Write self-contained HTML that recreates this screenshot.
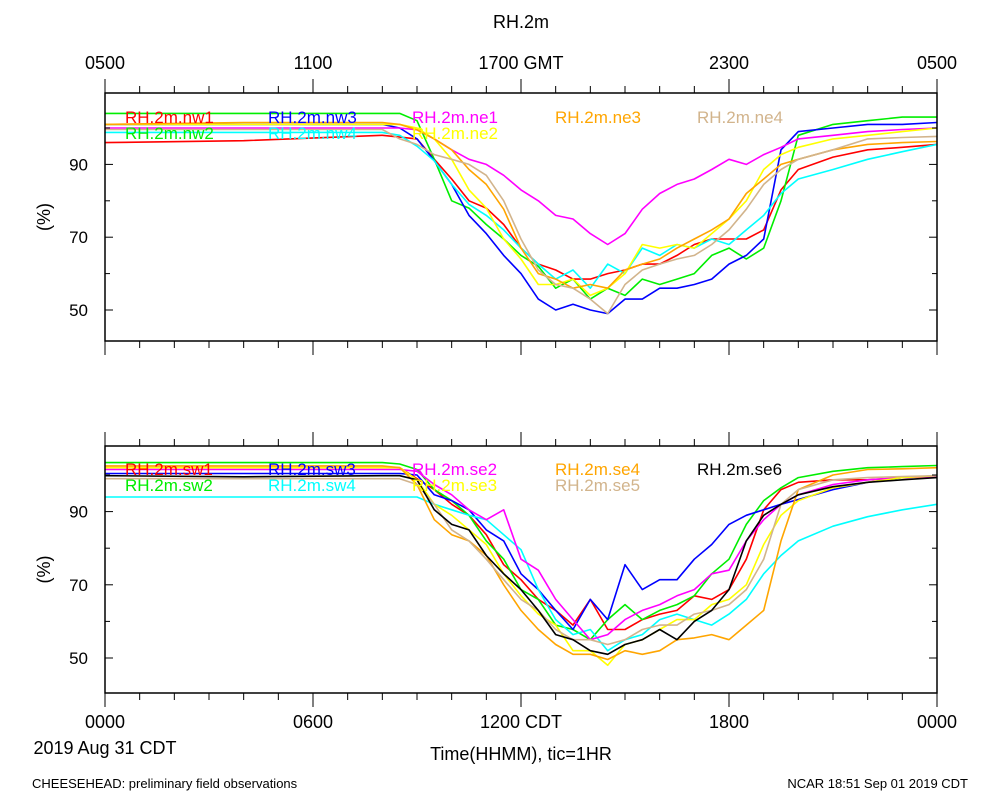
<!DOCTYPE html>
<html><head><meta charset="utf-8"><style>
html,body{margin:0;padding:0;background:#fff}
svg{display:block;font-family:"Liberation Sans",sans-serif}
</style></head><body>
<svg id="chart" width="1000" height="800" viewBox="0 0 1000 800" xmlns="http://www.w3.org/2000/svg">
<rect width="1000" height="800" fill="#fff"/>
<text x="521" y="28" font-size="18" text-anchor="middle">RH.2m</text>
<g id="topTicks" font-size="18" text-anchor="middle">
<text x="105" y="69">0500</text><text x="313" y="69">1100</text><text x="521" y="69">1700 GMT</text><text x="729" y="69">2300</text><text x="937" y="69">0500</text>
</g>
<g id="botTicks" font-size="18" text-anchor="middle">
<text x="105" y="728">0000</text><text x="313" y="728">0600</text><text x="521" y="728">1200 CDT</text><text x="729" y="728">1800</text><text x="937" y="728">0000</text>
</g>
<text x="105" y="754" font-size="18" text-anchor="middle">2019 Aug 31 CDT</text>
<text x="521" y="760" font-size="18" text-anchor="middle">Time(HHMM), tic=1HR</text>
<text x="32" y="788" font-size="13">CHEESEHEAD: preliminary field observations</text>
<text x="968" y="788" font-size="13" text-anchor="end">NCAR 18:51 Sep 01 2019 CDT</text>
<g id="panels"></g>
</svg>
<script>
const times=[0,4,8,8.5,9,9.5,10,10.5,11,11.5,12,12.5,13,13.5,14,14.5,15,15.5,16,16.5,17,17.5,18,18.5,19,19.5,20,21,22,23,24];
const yTickVals=[50,60,70,80,90,100];
const yTickLabels=["50","","70","","90",""];
const topNames=["RH.2m.nw1","RH.2m.nw2","RH.2m.nw3","RH.2m.nw4","RH.2m.ne1","RH.2m.ne2","RH.2m.ne3","RH.2m.ne4"];
const nw1=[96,96.5,98,97.5,97,91.4,86,80,78,73.5,67,62.6,61,58.5,58.5,60,61,62.6,62.6,65,68,69.5,69.5,69.5,72,83,88.6,92,94,94.7,95.5];
const nw2=[104,104,104,104,102,91.4,80,78,73.5,69.5,65,62,56,58.5,53,56,54,58.5,57,58.5,60,65,67,64,67,80,98,101,102,103,103];
const nw3=[101,101,101,100,97,91,84.5,76,71,65,60,53,50,51.6,50,49,53,53,56,56,57,58.5,62.6,65,69.5,94,99,100,101,101,101.5];
const nw4=[98.8,98.8,98.8,98,95,91,84.5,79,76,72,67,62.6,58.5,61,56,62.6,60,67,65,68,67,69.5,68,72,76,82,86,88.6,91.4,93.5,95.5];
const ne1=[100,100,100,100,99.5,97,94,91.4,90,87,83,80,76,75,71,68,71,77.7,82,84.5,86,88.6,91.4,90,92.7,94.7,97,98,99,99.6,100];
const ne2=[101,101,101,101,100,97,91.4,83,78,69.5,64,57,57,58.5,54,56,60,68,67,68,67,71,75,80,88.6,92.7,94.7,97,98,99,100];
const ne3=[101,101.5,101.5,101,99.5,97,94,88.6,84.5,77.7,67,60,58.5,56,57,56,61,62.6,64,67,69.5,72,75,82,86,90,91.4,94,95.5,96,96.3];
const ne4=[99.6,99.6,99.6,97,95.5,92.7,91.4,90,87,80,69.5,61,57,56,53,49,57,61,62.6,64,65,68,72,77.7,84.5,88.6,91.4,94,97,97.4,97.7];
const botNames=["RH.2m.sw1","RH.2m.sw2","RH.2m.sw3","RH.2m.sw4","RH.2m.se2","RH.2m.se3","RH.2m.se4","RH.2m.se5","RH.2m.se6"];
const sw1=[102,102,102,102,99,96,92,89,83.7,75.5,71.4,66,63,59,66,57.8,57.8,60.5,62,63,67,66,68.7,77,90.5,96,98,98.7,98.7,99.3,99.6];
const sw2=[103.4,103.4,103.4,103,101.5,96,93,89,82,77,68.7,66,59,57.8,55,60.5,64.6,60.5,63,64.6,67,73,77,86.5,93,96.5,99.3,101,102,102.3,102.6];
const sw3=[100.4,100.4,100.4,100.4,100,94.6,93,90.5,85,82,73,68.7,63,57.8,66,60.5,75.5,68.7,71.4,71.4,77,81,86.5,89,90.5,92,93.3,96,98,99.3,99.8];
const sw4=[94,94,94,94,94,92,90.5,89,87.8,83.7,79.6,68.7,60.5,56.4,57.8,52,55,56.4,60.5,62,60.5,59,62,66,73,78,82,86,88.6,90.5,92];
const se2=[101.5,101.5,101.5,101.5,101,97.4,94.6,90.5,87.8,90.5,77,74,66,60.5,55,56.4,60.5,63,64.6,67,68.7,73,74,82,87.8,92,94.6,97.4,98.7,99.3,99.6];
const se3=[102,102,102,102,98.7,92,89,85,81,73,67,62,59,52,52,48,53.7,55,57.8,60.5,60.5,64.6,66,70,81,89,93,96.5,98,99.3,99.8];
const se4=[102.5,102.5,102.5,102,97.4,87.8,83.7,82,78,70,63,57.8,53.7,51,51,49.6,52,51,52,55,55.5,56.4,55,59,63,82,96,100,101.5,101.7,102];
const se5=[99,99,99,99,97.4,92,85,82,77,71.4,66,63,57.8,55,55,53.7,55,57.8,59,59,62,63,64.6,68.7,77,92,96,98.7,99.3,99.6,99.8];
const se6=[99.8,99.5,99.8,99.8,98.7,90.5,86.5,85,78,73,68.7,63,56.4,55,52,51,53.7,55,57.8,55,60,63,68.7,82,89,92,94.6,96.8,98,98.7,99.3];

const NS="http://www.w3.org/2000/svg";
const root=document.getElementById('panels');
function mk(tag,attrs,parent){const e=document.createElementNS(NS,tag);for(const k in attrs)e.setAttribute(k,attrs[k]);(parent||root).appendChild(e);return e;}
const X0=105,X1=937;
function xs(h){return X0+(X1-X0)*h/24;}

function panel(top,bottom,y100,y50,names,series,colors,legendPos,pname){
  const g=mk('g',{});
  
  
  const ys=v=>y50+(v-50)*(y100-y50)/50;
  const clip=pname+'-clip';
  const cp=mk('clipPath',{id:clip},g);
  mk('rect',{x:X0,y:top,width:X1-X0,height:bottom-top},cp);
  const lg=mk('g',{'clip-path':'url(#'+clip+')'},g);
  series.forEach((s,i)=>{
    let d='';
    s.forEach((v,j)=>{d+=(j?'L':'M')+xs(times[j]).toFixed(1)+','+ys(v).toFixed(1);});
    const p=mk('path',{d:d,fill:'none',stroke:colors[i],'stroke-width':1.6,'stroke-linejoin':'round'},lg);
    
    
  });
  names.forEach((n,i)=>{
    const t=mk('text',{x:legendPos[i][0],y:legendPos[i][1],fill:colors[i],'font-size':17},g);
    t.textContent=n;
    
    
  });
  const f=mk('rect',{x:X0,y:top,width:X1-X0,height:bottom-top,fill:'none',stroke:'#000','stroke-width':1.5},g);
  
  
  for(let h=0;h<=24;h++){
    const L=(h%6===0)?14:7, x=xs(h);
    mk('line',{x1:x,x2:x,y1:bottom,y2:bottom+L,stroke:'#000','stroke-width':1},g);
    mk('line',{x1:x,x2:x,y1:top,y2:top-L,stroke:'#000','stroke-width':1},g);
  }
  yTickVals.forEach((v,i)=>{
    const y=ys(v), L=yTickLabels[i]?8:5;
    mk('line',{x1:X0,x2:X0+L,y1:y,y2:y,stroke:'#000','stroke-width':1},g);
    mk('line',{x1:X1,x2:X1-L,y1:y,y2:y,stroke:'#000','stroke-width':1},g);
    if(yTickLabels[i]){const t=mk('text',{x:88,y:y+6,'font-size':17,'text-anchor':'end'},g);t.textContent=yTickLabels[i];
      
      }
  });
  const cy=(top+bottom)/2;
  const yt=mk('text',{x:50,y:cy,'font-size':18,'text-anchor':'middle',transform:'rotate(-90 50 '+cy+')'},g);
  yt.textContent='(%)';
  
  
}
const cols8=['#ff0000','#00ee00','#0000ff','#00ffff','#ff00ff','#ffff00','#ffa500','#d2b48c'];
panel(93,341,128,310,topNames,[nw1,nw2,nw3,nw4,ne1,ne2,ne3,ne4],cols8,
 [[125,123],[125,139],[268,123],[268,139],[412,123],[412,139],[555,123],[697,123]],'top-panel');
panel(446,693,475,658,botNames,[sw1,sw2,sw3,sw4,se2,se3,se4,se5,se6],
 ['#ff0000','#00ee00','#0000ff','#00ffff','#ff00ff','#ffff00','#ffa500','#d2b48c','#000000'],
 [[125,475],[125,491],[268,475],[268,491],[412,475],[412,491],[555,475],[555,491],[697,475]],'bottom-panel');
</script>
</body></html>
